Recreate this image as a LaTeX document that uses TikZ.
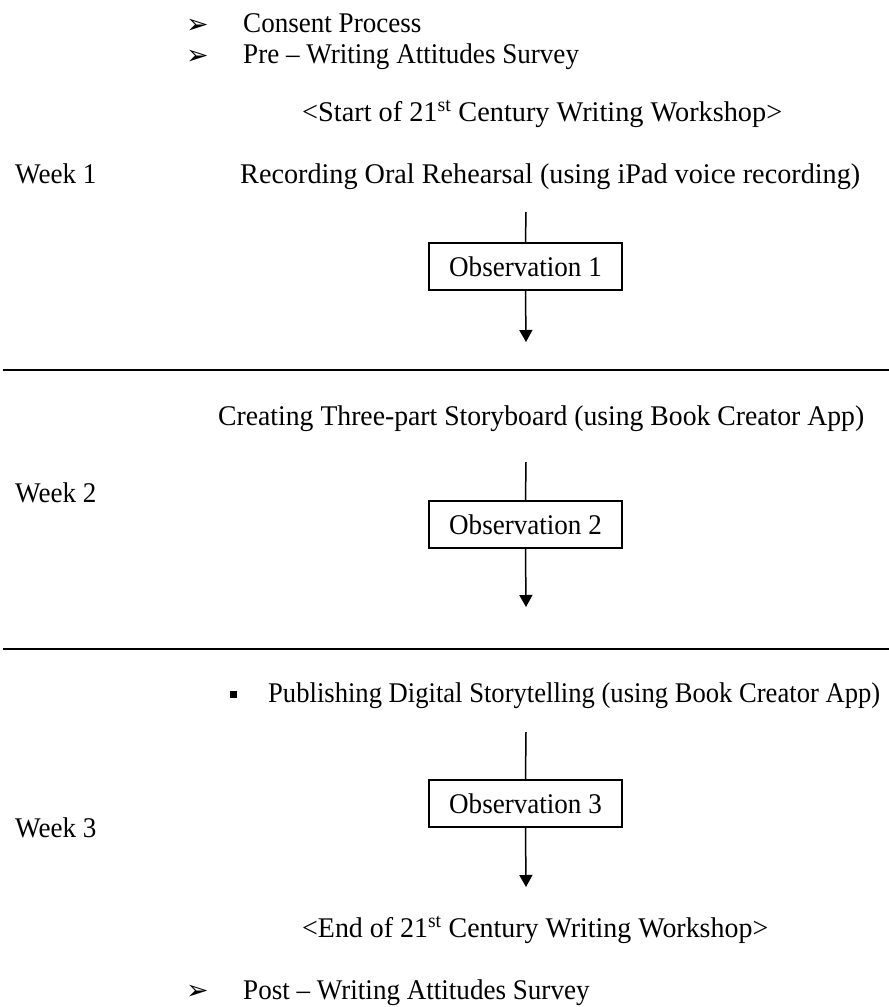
\documentclass[tikz,border=0pt]{standalone}
\usepackage{graphicx}
\usepackage{fontspec}
\setmainfont[FakeStretch=0.95]{Liberation Serif}
\newfontfamily\symfont{DejaVu Sans}
\usetikzlibrary{arrows.meta}
% set a line of text to a given width, keeping its height
\newcommand{\setwidth}[2]{\resizebox{#1}{\height}{#2}}
\begin{document}
\begin{tikzpicture}[x=1pt,y=-1pt,
  txt/.style={font=\fontsize{28.5}{34}\selectfont, inner sep=0, anchor=base west},
  bullet/.style={font=\symfont\bfseries\fontsize{27}{30}\selectfont, inner sep=0, anchor=base east},
  obsbox/.style={draw, line width=1.5pt, minimum width=193pt, minimum height=47pt,
                 inner sep=0, font=\fontsize{28.5}{34}\selectfont},
  link/.style={line width=1.5pt},
  flow/.style={line width=1.5pt, -{Triangle[width=13pt,length=12pt]}},
  divider/.style={line width=1.5pt}]
\useasboundingbox (0,0) rectangle (889,1007);

% opening steps
\node[bullet] (b1) at (209,33) {➢};
\node[txt] (consent) at (243,32) {Consent Process};
\node[bullet] (b2) at (209,64) {➢};
\node[txt] (pre) at (243,63) {Pre – Writing Attitudes Survey};
\node[txt] (start) at (302,121) {\setwidth{480pt}{<Start of 21\textsuperscript{st} Century Writing Workshop>}};

% week 1
\node[txt] (w1) at (15,183) {Week 1};
\node[txt] (act1) at (240,183) {\setwidth{620pt}{Recording Oral Rehearsal (using iPad voice recording)}};
\coordinate (top1) at (526,212);
\node[obsbox] (obs1) at (525.5,266.5) {Observation 1};
\coordinate (tip1) at (526,342);
\draw[link] (top1) -- (obs1.north);
\draw[flow] (obs1.south) -- (tip1);

\coordinate (r1a) at (3,370);
\coordinate (r1b) at (889,370);
\draw[divider] (r1a) -- (r1b);

% week 2
\node[txt] (act2) at (218,425) {\setwidth{646pt}{Creating Three-part Storyboard (using Book Creator App)}};
\node[txt] (w2) at (15,502) {Week 2};
\coordinate (top2) at (526,462);
\node[obsbox] (obs2) at (525.5,524.5) {Observation 2};
\coordinate (tip2) at (526,607);
\draw[link] (top2) -- (obs2.north);
\draw[flow] (obs2.south) -- (tip2);

\coordinate (r2a) at (3,649);
\coordinate (r2b) at (889,649);
\draw[divider] (r2a) -- (r2b);

% week 3
\node[fill, minimum size=7pt, inner sep=0] (sq) at (233.5,694.5) {};
\node[txt] (act3) at (268,702) {\setwidth{612pt}{Publishing Digital Storytelling (using Book Creator App)}};
\node[txt] (w3) at (15,837) {Week 3};
\coordinate (top3) at (526,732);
\node[obsbox] (obs3) at (525.5,803.5) {Observation 3};
\coordinate (tip3) at (526,887);
\draw[link] (top3) -- (obs3.north);
\draw[flow] (obs3.south) -- (tip3);

% closing steps
\node[txt] (end) at (302,937) {\setwidth{466pt}{<End of 21\textsuperscript{st} Century Writing Workshop>}};
\node[bullet] (b3) at (209,999) {➢};
\node[txt] (post) at (243,999) {Post – Writing Attitudes Survey};
\end{tikzpicture}
\end{document}
